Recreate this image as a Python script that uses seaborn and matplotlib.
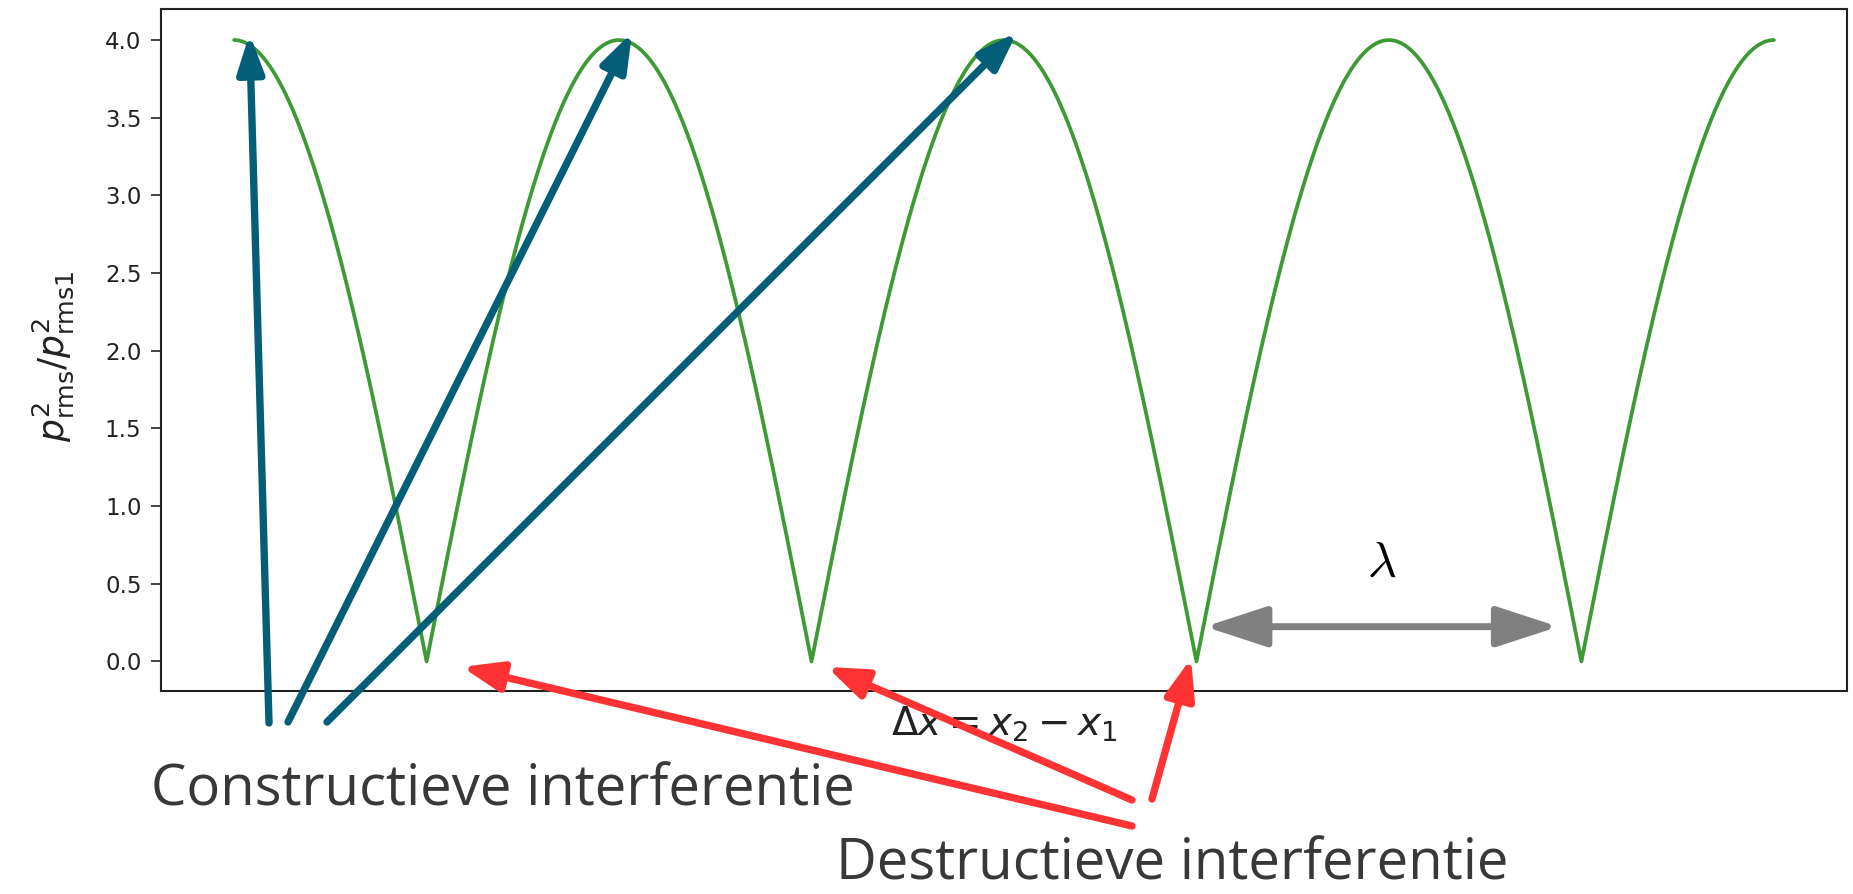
import numpy as np
import pandas as pd
import matplotlib
matplotlib.use("Agg")
import matplotlib.pyplot as plt
import seaborn as sns

# ---- data ----
peak_ratio = 4.0            # maximum of p_rms^2 / p_rms1^2
wavelength = 1.0            # lambda (x in units of lambda)
dx_range = [0.0, 4.0]       # plotted span of delta x
maxima_x = [0.0, 1.0, 2.0]  # constructive maxima that are pointed at
minima_x = [0.5, 1.5, 2.5]  # destructive minima that are pointed at
lambda_span = [2.5, 3.5]    # minima bounding the lambda arrow
yticks = [0.0, 0.5, 1.0, 1.5, 2.0, 2.5, 3.0, 3.5, 4.0]
label_constructive = "Constructieve interferentie"
label_destructive = "Destructieve interferentie"

dx = np.linspace(dx_range[0], dx_range[1], 3001)
ratio = peak_ratio * np.abs(np.cos(np.pi * dx / wavelength))
df = pd.DataFrame({"dx": dx, "ratio": ratio})

sns.set_style("ticks")
plt.rcParams["font.family"] = ["DejaVu Sans"]

W, H = 1853, 894
fig = plt.figure(figsize=(W / 100, H / 100), dpi=100)
ax_l, ax_r, ax_t, ax_b = 161, 1847, 9, 691
ax = fig.add_axes([ax_l / W, 1 - ax_b / H, (ax_r - ax_l) / W, (ax_b - ax_t) / H])

sns.lineplot(data=df, x="dx", y="ratio", ax=ax, color="#3d9a34", lw=2.7)

ax.set_xlim(-0.19, 4.19)
ax.set_ylim(-0.19, 4.2)
ax.set_xticks([])
ax.set_yticks(yticks)
ax.set_yticklabels([f"{v:.1f}" for v in yticks])
ax.tick_params(axis="y", labelsize=16.5, length=7, width=1.2, pad=7,
               colors="#222222", labelcolor="#222222")
for s in ax.spines.values():
    s.set_linewidth(1.5)
    s.set_color("#222222")
    s.set_visible(True)

ax.set_ylabel(r"$p^2_\mathrm{rms}/p^2_\mathrm{rms1}$", fontsize=26, color="#222222")
ax.yaxis.set_label_coords((53 - ax_l) / (ax_r - ax_l), 0.49)
ax.yaxis.label.set_va("center")
ax.set_xlabel(r"$\Delta x = x_2 - x_1$", fontsize=28, color="#222222")
ax.xaxis.set_label_coords(0.5, -(724 - ax_b) / (ax_b - ax_t))
ax.xaxis.label.set_va("center")

blue = "#045e78"
red = "#ff3333"
grey = "#808080"

def fpx(x, y):
    return (x, H - y)

# constructive arrows: tails near the label, tips at maxima
blue_tails = [fpx(269, 723), fpx(288, 722), fpx(327, 722)]
blue_off = [(0.04, 0.04), (0.034, 0.05), (0.034, 0.05)]
for mx, tail, off in zip(maxima_x, blue_tails, blue_off):
    ax.annotate("", xy=(mx + off[0], peak_ratio + off[1]), xycoords="data",
                xytext=tail, textcoords="figure pixels",
                arrowprops=dict(arrowstyle="-|>,head_length=1.15,head_width=0.4",
                                mutation_scale=20, color=blue, lw=5.3,
                                shrinkA=0, shrinkB=0),
                annotation_clip=False, zorder=5)

# destructive arrows
red_tails = [fpx(1132, 826), fpx(1132, 800), fpx(1152, 799)]
red_off = [(0.092, -0.035), (0.04, -0.035), (-0.014, 0.02)]
for mn, tail, off in zip(minima_x, red_tails, red_off):
    ax.annotate("", xy=(mn + off[0], off[1]), xycoords="data",
                xytext=tail, textcoords="figure pixels",
                arrowprops=dict(arrowstyle="-|>,head_length=1.2,head_width=0.45",
                                mutation_scale=20, color=red, lw=5.3,
                                shrinkA=0, shrinkB=0),
                annotation_clip=False, zorder=5)

# lambda arrow
ax.annotate("", xy=(lambda_span[1] - 0.06, 0.224), xytext=(lambda_span[0] + 0.022, 0.224),
            arrowprops=dict(arrowstyle="<|-|>,head_length=1.9,head_width=0.62",
                            mutation_scale=20, color=grey, lw=5,
                            shrinkA=0, shrinkB=0), zorder=5)
ax.text(np.mean(lambda_span) - 0.02, 0.64, r"$\lambda$", fontsize=36,
        math_fontfamily="cm", ha="center", va="center", color="black")

fig.text(151 / W, 1 - 806 / H, label_constructive, fontsize=40.5,
         family=["Open Sans", "DejaVu Sans"], color="#383838",
         ha="left", va="baseline")
fig.text(836 / W, 1 - 879 / H, label_destructive, fontsize=40.5,
         family=["Open Sans", "DejaVu Sans"], color="#383838",
         ha="left", va="baseline")

fig.savefig("out.png", dpi=100)
